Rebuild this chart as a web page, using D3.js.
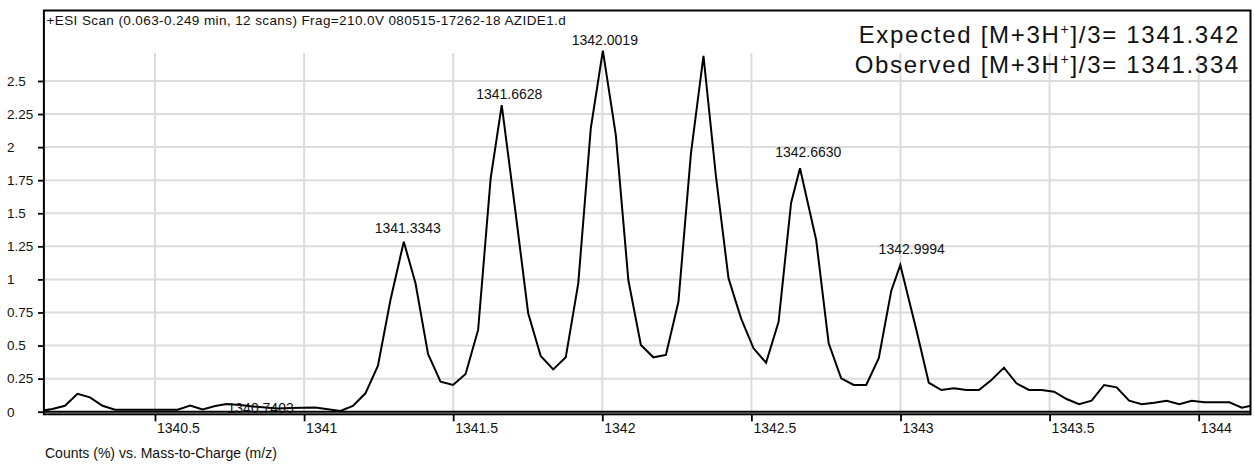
<!DOCTYPE html>
<html>
<head>
<meta charset="utf-8">
<script src="https://cdn.jsdelivr.net/npm/d3@7"></script>
<style>
  html, body { margin: 0; padding: 0; background: #fff; }
  svg { display: block; font-family: "Liberation Sans", Arial, Helvetica, sans-serif; }
</style>
</head>
<body>
<svg id="chart" width="1254" height="464"></svg>
<script>
// ---- spectrum data: m/z of each profile point and its relative count (%) ----
const mz = [
  1340.1140, 1340.1560, 1340.1980, 1340.2400, 1340.2820, 1340.3240, 1340.3660, 1340.4079,
  1340.4499, 1340.4919, 1340.5339, 1340.5759, 1340.6179, 1340.6599, 1340.7018, 1340.7403,
  1340.7858, 1340.8278, 1340.8698, 1340.9118, 1340.9538, 1340.9957, 1341.0377, 1341.0797,
  1341.1217, 1341.1637, 1341.2057, 1341.2477, 1341.2896, 1341.3343, 1341.3736, 1341.4156,
  1341.4576, 1341.4996, 1341.5416, 1341.5836, 1341.6256, 1341.6628, 1341.7095, 1341.7515,
  1341.7935, 1341.8355, 1341.8775, 1341.9194, 1341.9614, 1342.0019, 1342.0454, 1342.0874,
  1342.1294, 1342.1713, 1342.2133, 1342.2553, 1342.2973, 1342.3393, 1342.3813, 1342.4233,
  1342.4653, 1342.5072, 1342.5492, 1342.5912, 1342.6332, 1342.6630, 1342.7172, 1342.7592,
  1342.8011, 1342.8431, 1342.8851, 1342.9271, 1342.9691, 1342.9994, 1343.0531, 1343.0950,
  1343.1370, 1343.1790, 1343.2210, 1343.2630, 1343.3050, 1343.3470, 1343.3889, 1343.4309,
  1343.4729, 1343.5149, 1343.5569, 1343.5989, 1343.6409, 1343.6828, 1343.7248, 1343.7668,
  1343.8088, 1343.8508, 1343.8928, 1343.9348, 1343.9767, 1344.0187, 1344.0607, 1344.1027,
  1344.1447, 1344.1867
];
const counts = [
  0.005, 0.020, 0.045, 0.135, 0.108, 0.045, 0.015, 0.015,
  0.015, 0.015, 0.015, 0.015, 0.047, 0.017, 0.043, 0.058,
  0.050, 0.040, 0.032, 0.025, 0.028, 0.030, 0.032, 0.018,
  0.006, 0.043, 0.139, 0.348, 0.844, 1.285, 0.971, 0.436,
  0.227, 0.202, 0.285, 0.618, 1.764, 2.318, 1.500, 0.744,
  0.421, 0.320, 0.411, 0.970, 2.142, 2.730, 2.091, 0.995,
  0.504, 0.411, 0.429, 0.831, 1.953, 2.690, 1.776, 1.008,
  0.706, 0.479, 0.370, 0.680, 1.580, 1.840, 1.298, 0.517,
  0.252, 0.202, 0.202, 0.404, 0.915, 1.109, 0.620, 0.219,
  0.164, 0.177, 0.164, 0.164, 0.240, 0.333, 0.215, 0.164,
  0.164, 0.151, 0.096, 0.056, 0.083, 0.202, 0.184, 0.083,
  0.056, 0.068, 0.083, 0.056, 0.083, 0.071, 0.071, 0.071,
  0.030, 0.051
];

// labelled peak centroids
const peakMz = [1340.7403, 1341.3343, 1341.6628, 1342.0019, 1342.6630, 1342.9994];
const peakLabels = ["1340.7403", "1341.3343", "1341.6628", "1342.0019", "1342.6630", "1342.9994"];

// axis ticks
const xTicks = [1340.5, 1341, 1341.5, 1342, 1342.5, 1343, 1343.5, 1344];
const xTickLabels = ["1340.5", "1341", "1341.5", "1342", "1342.5", "1343", "1343.5", "1344"];
const yTicks = [0, 0.25, 0.5, 0.75, 1, 1.25, 1.5, 1.75, 2, 2.25, 2.5];
const yTickLabels = ["0", "0.25", "0.5", "0.75", "1", "1.25", "1.5", "1.75", "2", "2.25", "2.5"];

// text
const scanInfo = "+ESI Scan (0.063-0.249 min, 12 scans) Frag=210.0V 080515-17262-18 AZIDE1.d";
const axisCaption = "Counts (%) vs. Mass-to-Charge (m/z)";
const massLines = [
  { name: "Expected", value: "1341.342" },
  { name: "Observed", value: "1341.334" }
];

// ---- layout ----
const plot = { left: 44, right: 1251, top: 10, zeroY: 411.7 };
const xDomain = [1340.1278, 1344.1754];
const yDomain = [0, 3.044];
// nudges for peak labels so they sit clear of the trace: [dx, dy] in px
const labelNudge = [[34, 9], [4, -8.5], [7.5, -6], [2, -6], [8.3, -11.5], [11.4, -11]];

const svg = d3.select("#chart");

const x = d3.scaleLinear().domain(xDomain).range([plot.left, plot.right]);
const y = d3.scaleLinear().domain(yDomain).range([plot.zeroY, 9]);

svg.append("rect").attr("width", 1254).attr("height", 464).attr("fill", "#fff");

svg.append("defs").append("clipPath").attr("id", "plotClip")
  .append("rect")
  .attr("x", plot.left).attr("y", plot.top)
  .attr("width", plot.right - plot.left).attr("height", 414 - plot.top);

// grid
const grid = svg.append("g").attr("stroke", "#dcdcdc").attr("stroke-width", 2);
grid.selectAll("line.h").data(yTicks.filter(d => d > 0)).join("line")
  .attr("class", "h")
  .attr("x1", plot.left).attr("x2", plot.right)
  .attr("y1", d => y(d)).attr("y2", d => y(d));
grid.selectAll("line.v").data(xTicks).join("line")
  .attr("class", "v")
  .attr("x1", d => x(d)).attr("x2", d => x(d))
  .attr("y1", 53).attr("y2", plot.zeroY);

// spectrum trace
const pts = mz.map((m, i) => [m, counts[i]]);
svg.append("path")
  .datum(pts)
  .attr("clip-path", "url(#plotClip)")
  .attr("fill", "none")
  .attr("stroke", "#000")
  .attr("stroke-width", 2)
  .attr("stroke-linejoin", "miter")
  .attr("d", d3.line().x(d => x(d[0])).y(d => y(d[1])));

// zero baseline and frame
svg.append("line")
  .attr("x1", plot.left).attr("x2", plot.right)
  .attr("y1", plot.zeroY).attr("y2", plot.zeroY)
  .attr("stroke", "#000").attr("stroke-width", 2);
svg.append("rect")
  .attr("x", 43.9).attr("y", 10.5)
  .attr("width", 1250.5 - 43.9).attr("height", 414.3 - 10.5)
  .attr("fill", "none").attr("stroke", "#000").attr("stroke-width", 2);

// y axis
const yAxis = svg.append("g")
  .attr("transform", `translate(${plot.left},0)`)
  .call(d3.axisLeft(y).tickValues(yTicks).tickSize(6)
    .tickFormat((d, i) => yTickLabels[i]));
yAxis.select(".domain").remove();
yAxis.selectAll(".tick line").attr("stroke", "#000").attr("stroke-width", 1.8);
yAxis.selectAll(".tick text")
  .attr("x", 7 - plot.left).attr("text-anchor", "start")
  .attr("fill", "#111")
  .style("font-size", "13.5px").style("font-family", "inherit");

// x axis
const xAxis = svg.append("g")
  .attr("transform", "translate(0,414.3)")
  .call(d3.axisBottom(x).tickValues(xTicks).tickSize(7)
    .tickFormat((d, i) => xTickLabels[i]));
xAxis.select(".domain").remove();
xAxis.selectAll(".tick line").attr("stroke", "#000").attr("stroke-width", 1.8);
xAxis.selectAll(".tick text")
  .attr("x", 1.5).attr("y", 8.5).attr("text-anchor", "start")
  .attr("fill", "#111")
  .style("font-size", "14px").style("font-family", "inherit");

// peak labels
peakMz.forEach((m, i) => {
  const idx = mz.indexOf(m);
  svg.append("text")
    .attr("x", x(m) + labelNudge[i][0])
    .attr("y", y(counts[idx]) + labelNudge[i][1])
    .attr("text-anchor", "middle")
    .attr("fill", "#111")
    .style("font-size", "14px")
    .text(peakLabels[i]);
});

// scan header
svg.append("text")
  .attr("x", 46.5).attr("y", 24.5)
  .attr("fill", "#111")
  .style("font-size", "13.5px")
  .style("letter-spacing", "0.4px")
  .text(scanInfo);

// axis caption
svg.append("text")
  .attr("x", 45).attr("y", 457.5)
  .attr("fill", "#111")
  .style("font-size", "14px")
  .text(axisCaption);

// expected / observed masses
massLines.forEach((ln, i) => {
  const t = svg.append("text")
    .attr("x", 1240).attr("y", 42.7 + i * 30)
    .attr("text-anchor", "end")
    .attr("fill", "#111")
    .style("font-size", "24px")
    .style("letter-spacing", "1.7px");
  t.append("tspan").text(`${ln.name} [M+3H`);
  t.append("tspan").attr("dy", -8.5).style("font-size", "14px").text("+");
  t.append("tspan").attr("dy", 8.5).text(`]/3= ${ln.value}`);
});
</script>
</body>
</html>
